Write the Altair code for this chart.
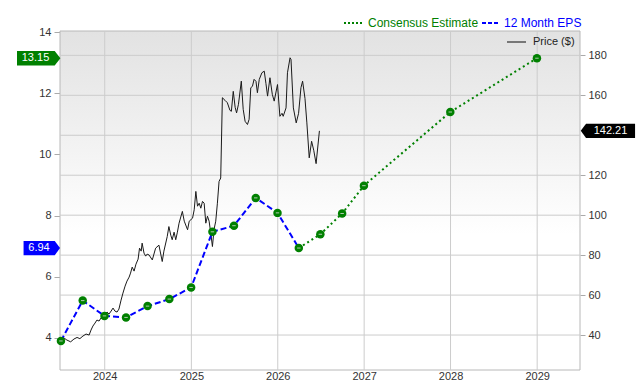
import altair as alt
import pandas as pd

FONT = "Liberation Sans"
W, H = 520, 339

# ---------------- data ----------------
eps_dates = ["2023-06-30", "2023-09-30", "2023-12-31", "2024-03-31", "2024-06-30",
             "2024-09-30", "2024-12-31", "2025-03-31", "2025-06-30", "2025-09-30",
             "2025-12-31", "2026-03-31"]
eps_values = [3.90, 5.22, 4.72, 4.67, 5.04, 5.27, 5.65, 7.47, 7.67, 8.58, 8.09, 6.94]

est_dates = ["2026-03-31", "2026-06-30", "2026-09-30", "2026-12-31", "2027-12-31", "2028-12-31"]
est_values = [6.94, 7.39, 8.07, 8.98, 11.39, 13.15]

price_dates = [
    "2023-06-29", "2023-07-13", "2023-07-25", "2023-08-10", "2023-08-24", "2023-09-06",
    "2023-09-18", "2023-10-01", "2023-10-14", "2023-10-27", "2023-11-04", "2023-11-12",
    "2023-11-21", "2023-11-29", "2023-12-08", "2023-12-16", "2023-12-25", "2024-01-02",
    "2024-01-11", "2024-01-19", "2024-01-28", "2024-02-05", "2024-02-13", "2024-02-22",
    "2024-03-01", "2024-03-10", "2024-03-18", "2024-03-27", "2024-04-04", "2024-04-13",
    "2024-04-19", "2024-04-26", "2024-05-04", "2024-05-12", "2024-05-21", "2024-05-27",
    "2024-06-03", "2024-06-07", "2024-06-15", "2024-06-22", "2024-06-28", "2024-07-06",
    "2024-07-20", "2024-08-03", "2024-08-17", "2024-08-31", "2024-09-07", "2024-09-21",
    "2024-09-28", "2024-10-06", "2024-10-12", "2024-10-20", "2024-10-27", "2024-11-03",
    "2024-11-10", "2024-11-24", "2024-12-02", "2024-12-16", "2024-12-23", "2025-01-06",
    "2025-01-13", "2025-01-20", "2025-01-27", "2025-02-03", "2025-02-10", "2025-02-17",
    "2025-02-24", "2025-03-03", "2025-03-10", "2025-03-17", "2025-03-24", "2025-03-31",
    "2025-04-07", "2025-04-14", "2025-04-21", "2025-04-28", "2025-05-05", "2025-05-12",
    "2025-05-23", "2025-06-02", "2025-06-13", "2025-06-19", "2025-06-27", "2025-07-05",
    "2025-07-11", "2025-07-19", "2025-07-31", "2025-08-08", "2025-08-16", "2025-08-26",
    "2025-09-02", "2025-09-09", "2025-09-16", "2025-09-23", "2025-10-01", "2025-10-07",
    "2025-10-15", "2025-10-26", "2025-11-05", "2025-11-12", "2025-11-19", "2025-11-29",
    "2025-12-09", "2025-12-17", "2025-12-31", "2026-01-10", "2026-01-19", "2026-01-24",
    "2026-02-05", "2026-02-11", "2026-02-22", "2026-02-26", "2026-03-08", "2026-03-20",
    "2026-03-30", "2026-04-09", "2026-04-16", "2026-04-26", "2026-05-04", "2026-05-14",
    "2026-05-24", "2026-06-02", "2026-06-12", "2026-06-26"]
price_values = [
    38.8, 38.5, 37.5, 36.6, 38.0, 38.8,
    38.2, 39.5, 40.5, 40.0, 42.5, 44.5,
    46.0, 47.5, 47.0, 48.5, 48.0, 50.5,
    51.5, 50.5, 52.0, 53.5, 52.0, 51.5,
    53.0, 57.5, 61.0, 64.5, 67.0, 69.0,
    71.0, 74.0, 72.0, 75.5, 78.0, 83.5,
    82.0, 86.0, 81.0, 79.5, 80.5, 80.1,
    77.6, 83.5, 85.0, 76.8, 82.0, 89.3,
    94.3, 90.0, 87.7, 91.5, 87.7, 91.5,
    96.0, 101.9, 97.0, 92.7, 97.0, 98.5,
    102.7, 111.9, 104.5, 106.0, 103.5, 106.9,
    106.0, 96.0, 99.5, 97.0, 91.0, 84.3,
    93.0, 97.0, 106.0, 116.9, 118.6, 158.8,
    157.5, 156.3, 152.5, 152.0, 162.0, 154.0,
    151.2, 155.5, 167.1, 153.0, 147.0, 145.4,
    148.0, 163.8, 164.5, 168.0, 167.0, 161.3,
    168.0, 171.3, 172.1, 166.0, 159.6, 168.8,
    160.5, 157.1, 165.4, 149.5, 151.0, 149.5,
    153.7, 171.3, 178.8, 178.0, 153.7, 146.2,
    151.0, 163.8, 167.1, 158.5, 146.2, 128.7,
    137.0, 132.5, 125.8, 142.21]

year_ticks = ["2024-01-01", "2025-01-01", "2026-01-01", "2027-01-01", "2028-01-01", "2029-01-01"]
price_grid = [40, 60, 80, 100, 120, 140, 160, 180]
price_labels = [40, 60, 80, 100, 120, 160, 180]   # 140 is hidden behind the price tag
eps_ticks = [4, 6, 8, 10, 12, 14]

GREEN = "#008000"
BLUE = "#0000ff"

# ---------------- scales & axes ----------------
xscale = alt.Scale(domain=[alt.DateTime(year=2023, month=6, date=26),
                           alt.DateTime(year=2029, month=7, date=1)])
lscale = alt.Scale(domain=[2.95, 14.04], nice=False, zero=False)
rscale = alt.Scale(domain=[22.5, 192.2], nice=False, zero=False)

x_axis = alt.Axis(title=None, format="%Y", tickCount={"interval": "year", "step": 1},
                  grid=False, ticks=False, domain=False, labelPadding=0,
                  labelFont=FONT, labelFontSize=11, labelColor="#333333")
r_axis = alt.Axis(orient="right", title=None, values=price_labels, grid=False, domain=False,
                  tickSize=5, tickColor="#aaaaaa", labelPadding=3,
                  labelFont=FONT, labelFontSize=11, labelColor="#333333")
l_axis = alt.Axis(orient="left", title=None, values=eps_ticks, grid=False, domain=False,
                  tickSize=6, tickColor="#aaaaaa", labelPadding=3,
                  labelFont=FONT, labelFontSize=11, labelColor="#333333")

X = lambda f: alt.X(f, scale=xscale, axis=x_axis)
YR = lambda f: alt.Y(f, scale=rscale, axis=r_axis)
YL = lambda f: alt.Y(f, scale=lscale, axis=l_axis)

price_df = pd.DataFrame({"date": price_dates, "price": price_values})
eps_df = pd.DataFrame({"date": eps_dates, "eps": eps_values})
est_df = pd.DataFrame({"date": est_dates, "eps": est_values})
dots_df = pd.DataFrame({"date": eps_dates + est_dates[1:], "eps": eps_values + est_values[1:]})
one = pd.DataFrame({"k": [0]})

# ---------------- price (right axis) group ----------------
bg = alt.Chart(one).mark_rect(
    fill=alt.Gradient(gradient="linear",
                      stops=[alt.GradientStop(color="#e2e2e2", offset=0),
                             alt.GradientStop(color="#ffffff", offset=0.6)],
                      x1=0, x2=0, y1=0, y2=1),
    stroke="#b8b8b8", strokeWidth=1,
).encode(x=alt.value(0), x2=alt.value(W), y=alt.value(0), y2=alt.value(H))

vgrid = alt.Chart(pd.DataFrame({"date": year_ticks})).mark_rule(color="#cccccc", strokeWidth=1).encode(
    x=X("date:T"))

hgrid = alt.Chart(pd.DataFrame({"v": price_grid})).mark_rule(color="#cccccc", strokeWidth=1).encode(
    y=YR("v:Q"))

pline = alt.Chart(price_df).mark_line(color="#1a1a1a", strokeWidth=1).encode(
    x=X("date:T"), y=YR("price:Q"))

ptag_df = pd.DataFrame({"v": [price_values[-1]], "label": [f"{price_values[-1]:.2f}"]})
ptag = alt.Chart(ptag_df).mark_point(
    shape="M1,-0.26 L-0.805,-0.26 L-1,0 L-0.805,0.26 L1,0.26 Z",
    filled=True, opacity=1, color="#000000", size=54.3 ** 2, strokeWidth=0,
).encode(x=alt.value(W + 27.9), y=YR("v:Q"))
ptag_text = alt.Chart(ptag_df).mark_text(font=FONT, fontSize=11, color="white",
                                         align="center", baseline="middle").encode(
    x=alt.value(W + 30.5), y=YR("v:Q"), text="label:N")

price_legend_line = alt.Chart(one).mark_rule(color="#777777", strokeWidth=2).encode(
    x=alt.value(447), x2=alt.value(466), y=alt.value(11))
price_legend_text = alt.Chart(one).mark_text(font=FONT, fontSize=11, color="#222222",
                                             align="left", baseline="middle").encode(
    x=alt.value(473), y=alt.value(11), text=alt.value("Price ($)"))

price_group = alt.layer(bg, vgrid, hgrid, pline, ptag, ptag_text,
                        price_legend_line, price_legend_text)

# ---------------- EPS (left axis) group ----------------
est_line = alt.Chart(est_df).mark_line(color=GREEN, strokeWidth=2, strokeDash=[2, 3]).encode(
    x=X("date:T"), y=YL("eps:Q"))
eps_line = alt.Chart(eps_df).mark_line(color=BLUE, strokeWidth=2, strokeDash=[6, 3]).encode(
    x=X("date:T"), y=YL("eps:Q"))
dots = alt.Chart(dots_df).mark_circle(color=GREEN, size=72, opacity=1).encode(
    x=X("date:T"), y=YL("eps:Q"))
dot_marks = alt.Chart(dots_df).mark_point(shape="stroke", size=12, color="#b0c8b0",
                                          strokeWidth=1, opacity=1).encode(
    x=X("date:T"), y=YL("eps:Q"))

tag1_df = pd.DataFrame({"v": [est_values[-1]], "label": [f"{est_values[-1]:.2f}"]})
tag1 = alt.Chart(tag1_df).mark_point(
    shape="M-1,-0.335 L0.737,-0.335 L1,0 L0.737,0.335 L-1,0.335 Z",
    filled=True, opacity=1, color=GREEN, size=43.4 ** 2, strokeWidth=0,
).encode(x=alt.value(-21.3), y=YL("v:Q"))
tag1_text = alt.Chart(tag1_df).mark_text(font=FONT, fontSize=11, color="white",
                                         align="center", baseline="middle").encode(
    x=alt.value(-24.5), y=YL("v:Q"), text="label:N")

tag2_df = pd.DataFrame({"v": [eps_values[-1]], "label": [f"{eps_values[-1]:.2f}"]})
tag2 = alt.Chart(tag2_df).mark_point(
    shape="M-1,-0.39 L0.71,-0.39 L1,0 L0.71,0.39 L-1,0.39 Z",
    filled=True, opacity=1, color=BLUE, size=36.5 ** 2, strokeWidth=0,
).encode(x=alt.value(-18.2), y=YL("v:Q"))
tag2_text = alt.Chart(tag2_df).mark_text(font=FONT, fontSize=11, color="white",
                                         align="center", baseline="middle").encode(
    x=alt.value(-21), y=YL("v:Q"), text="label:N")

leg1_line = alt.Chart(one).mark_rule(color=GREEN, strokeWidth=2, strokeDash=[2, 2]).encode(
    x=alt.value(284), x2=alt.value(302), y=alt.value(-8))
leg1_text = alt.Chart(one).mark_text(font=FONT, fontSize=12, color=GREEN,
                                     align="left", baseline="middle").encode(
    x=alt.value(308), y=alt.value(-8), text=alt.value("Consensus Estimate"))
leg2_line = alt.Chart(one).mark_rule(color=BLUE, strokeWidth=2, strokeDash=[4, 2]).encode(
    x=alt.value(422), x2=alt.value(440), y=alt.value(-8))
leg2_text = alt.Chart(one).mark_text(font=FONT, fontSize=12, color=BLUE,
                                     align="left", baseline="middle").encode(
    x=alt.value(444), y=alt.value(-8), text=alt.value("12 Month EPS"))

eps_group = alt.layer(est_line, eps_line, dots, dot_marks, tag1, tag1_text, tag2, tag2_text,
                      leg1_line, leg1_text, leg2_line, leg2_text)

chart = alt.layer(price_group, eps_group).resolve_scale(y="independent").properties(
    width=W, height=H,
    padding={"left": 60, "top": 31, "right": 60, "bottom": 10},
    autosize=alt.AutoSizeParams(type="none"),
).configure_view(stroke=None)

chart.save("out.html", embed_options={"renderer": "svg", "actions": False})
